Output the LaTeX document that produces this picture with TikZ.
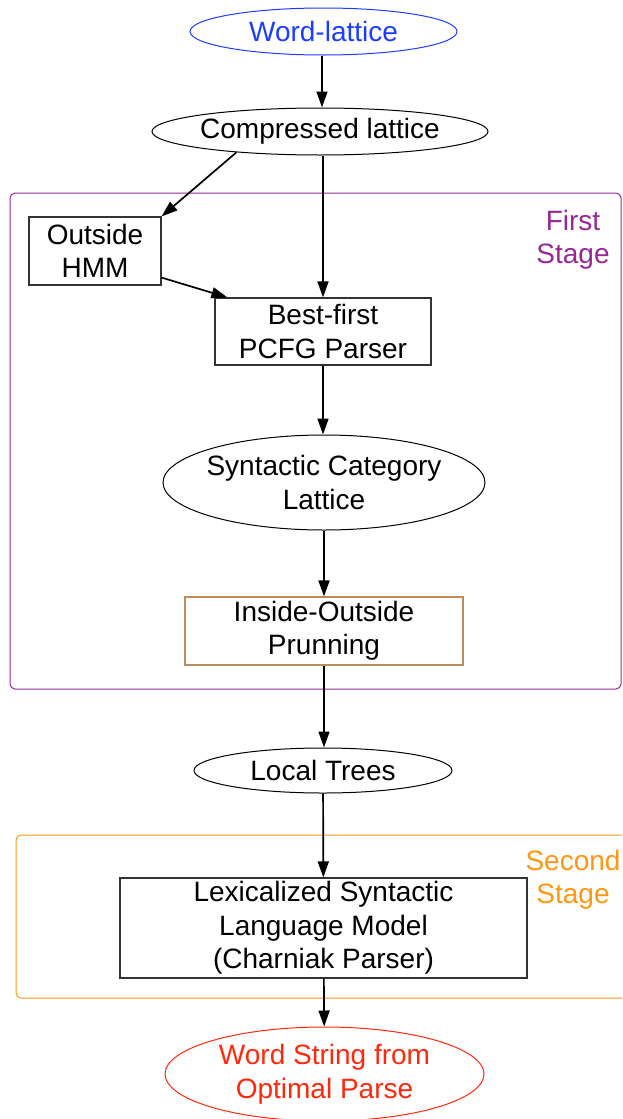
\documentclass[tikz,border=0pt]{standalone}
\usepackage{fontspec}
\setmainfont{Liberation Sans}
\usetikzlibrary{shapes.geometric,arrows.meta}
\definecolor{wlblue}{RGB}{30,60,255}
\definecolor{stpurple}{RGB}{150,40,150}
\definecolor{iotan}{RGB}{190,140,90}
\definecolor{storange}{RGB}{255,150,20}
\definecolor{wsred}{RGB}{255,40,10}
\begin{document}
\begin{tikzpicture}[x=1pt,y=1pt,
  lbl/.style={font=\fontsize{28}{33.5}\selectfont, align=center},
  ell/.style={ellipse, draw, line width=1pt, inner xsep=-8pt, inner ysep=-4pt, lbl},
  boxn/.style={rectangle, draw=black!80, line width=1.2pt, inner sep=0pt, lbl},
  arr/.style={-{Triangle[length=16pt,width=11pt]}, line width=1.7pt},
  stagebox/.style={rounded corners=5pt, line width=1pt}]
\useasboundingbox (0,0) rectangle (622,-1119);
\clip (0,0) rectangle (622,-1119);
% stage frames
\draw[stagebox, draw=stpurple] (10,-193) rectangle (621,-689);
\draw[stagebox, draw=storange] (16,-835) rectangle (640,-998);
\node[lbl, text=stpurple] (fs) at (573,-240) {First\\Stage};
\node[lbl, text=storange] (ss) at (573,-879.5) {Second\\Stage};
% nodes
\node[ell, draw=wlblue, text=wlblue, minimum width=267pt, minimum height=47pt] (wl) at (323.5,-31.5) {Word-lattice};
\node[ell, minimum width=336pt, minimum height=47pt] (comp) at (320,-131.5) {Compressed lattice};
\node[boxn, minimum width=132pt, minimum height=68pt] (hmm) at (95,-251) {Outside\\HMM};
\node[boxn, minimum width=216pt, minimum height=67pt] (bf) at (323,-331.5) {Best-first\\PCFG Parser};
\node[ell, minimum width=322pt, minimum height=95pt] (syn) at (324,-482.5) {Syntactic Category\\Lattice};
\node[boxn, draw=iotan, minimum width=278pt, minimum height=68pt] (io) at (324,-631) {Inside-Outside\\Prunning};
\node[ell, minimum width=258pt, minimum height=45pt] (lt) at (323,-770.5) {Local Trees};
\node[boxn, minimum width=407pt, minimum height=100pt] (lex) at (323.5,-928) {Lexicalized Syntactic\\Language Model\\(Charniak Parser)};
\node[ell, draw=wsred, text=wsred, minimum width=319pt, minimum height=94pt] (ws) at (324.5,-1074) {Word String from\\Optimal Parse};
% connectors
\draw[arr] ([xshift=-1.5pt]wl.south) -- ([xshift=-1.5pt]wl.south |- comp.north);
\draw[arr] (comp.194) -- (hmm.north east);
\draw[arr] (bf.north |- comp.south) -- (bf.north);
\draw[arr] ([yshift=8pt]hmm.south east) -- ([xshift=13pt]bf.north west);
\draw[arr] (bf.south) -- (bf.south |- syn.north);
\draw[arr] (syn) -- (io);
\draw[arr] (io.south) -- (io.south |- lt.north);
\draw[arr] (lt) -- (lex);
\draw[arr] (lex) -- (ws);
\end{tikzpicture}
\end{document}
